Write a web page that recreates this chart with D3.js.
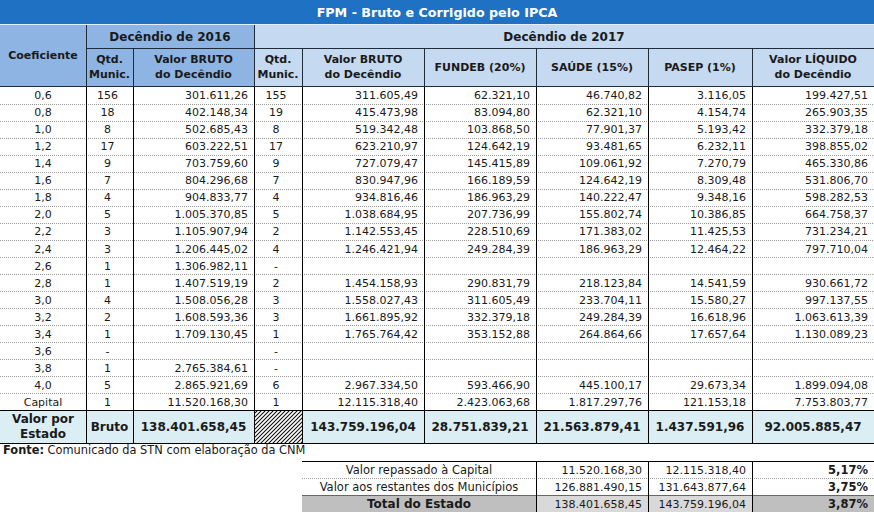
<!DOCTYPE html>
<html>
<head>
<meta charset="utf-8">
<script src="https://cdn.jsdelivr.net/npm/d3@7"></script>
<style>
  html, body { margin: 0; padding: 0; background: #fff; }
  svg { display: block; font-family: "DejaVu Sans", Verdana, sans-serif; }
</style>
</head>
<body>
<svg id="chart" width="874" height="512"></svg>
<script>
// ---------------- DATA ----------------
const title = "FPM - Bruto e Corrigido pelo IPCA";
const coeficientes = ["0,6","0,8","1,0","1,2","1,4","1,6","1,8","2,0","2,2","2,4","2,6","2,8","3,0","3,2","3,4","3,6","3,8","4,0","Capital"];
const qtd2016 = [156,18,8,17,9,7,4,5,3,3,1,1,4,2,1,null,1,5,1];
const bruto2016 = [301611.26,402148.34,502685.43,603222.51,703759.60,804296.68,904833.77,1005370.85,1105907.94,1206445.02,1306982.11,1407519.19,1508056.28,1608593.36,1709130.45,null,2765384.61,2865921.69,11520168.30];
const qtd2017 = [155,19,8,17,9,7,4,5,2,4,null,2,3,3,1,null,null,6,1];
const bruto2017 = [311605.49,415473.98,519342.48,623210.97,727079.47,830947.96,934816.46,1038684.95,1142553.45,1246421.94,null,1454158.93,1558027.43,1661895.92,1765764.42,null,null,2967334.50,12115318.40];
const fundeb = [62321.10,83094.80,103868.50,124642.19,145415.89,166189.59,186963.29,207736.99,228510.69,249284.39,null,290831.79,311605.49,332379.18,353152.88,null,null,593466.90,2423063.68];
const saude = [46740.82,62321.10,77901.37,93481.65,109061.92,124642.19,140222.47,155802.74,171383.02,186963.29,null,218123.84,233704.11,249284.39,264864.66,null,null,445100.17,1817297.76];
const pasep = [3116.05,4154.74,5193.42,6232.11,7270.79,8309.48,9348.16,10386.85,11425.53,12464.22,null,14541.59,15580.27,16618.96,17657.64,null,null,29673.34,121153.18];
const liquido = [199427.51,265903.35,332379.18,398855.02,465330.86,531806.70,598282.53,664758.37,731234.21,797710.04,null,930661.72,997137.55,1063613.39,1130089.23,null,null,1899094.08,7753803.77];

const totalLabel = ["Valor por", "Estado"];
const totalTipo = "Bruto";
const totais = { bruto2016: 138401658.45, bruto2017: 143759196.04, fundeb: 28751839.21, saude: 21563879.41, pasep: 1437591.96, liquido: 92005885.47 };

const headerGroups = ["Coeficiente", "Decêndio de 2016", "Decêndio de 2017"];
const subHeaders = [["Qtd.","Munic."],["Valor BRUTO","do Decêndio"],["Qtd.","Munic."],["Valor BRUTO","do Decêndio"],["FUNDEB (20%)"],["SAÚDE (15%)"],["PASEP (1%)"],["Valor LÍQUIDO","do Decêndio"]];

const fonteBold = "Fonte:";
const fonteText = " Comunicado da STN com elaboração da CNM";

const resumoLabels = ["Valor repassado à Capital","Valor aos restantes dos Municípios","Total do Estado"];
const resumo2016 = [11520168.30,126881490.15,138401658.45];
const resumo2017 = [12115318.40,131643877.64,143759196.04];
const resumoVar = [5.17,3.75,3.87];

// ---------------- FORMAT ----------------
const br = d3.formatLocale({decimal: ",", thousands: ".", grouping: [3], currency: ["R$ ", ""]});
const fmt = br.format(",.2f");
const fmtPct = v => br.format(".2f")(v) + "%";

// ---------------- LAYOUT ----------------
const W = 874;
const edges = [0, 86, 133, 254, 302, 424, 536, 648, 752, 874];
const svg = d3.select("#chart");
const C = {
  title: "#1f72c3", mid: "#8db4e2", light: "#c5d9f1", total: "#daeef3",
  line: "#000", hline: "#1d2b3a", dot: "#9a9a9a", text: "#1a1a1a",
  gray: "#bfbfbf", lgray: "#d9d9d9"
};

const yRow = d3.scaleBand().domain(d3.range(coeficientes.length)).range([86.5, 410.5]).paddingInner(0);

// Title bar
svg.append("rect").attr("x", 0).attr("y", 0).attr("width", W).attr("height", 24).attr("fill", C.title);
svg.append("text").attr("x", 437).attr("y", 17).attr("text-anchor", "middle")
  .attr("fill", "#fff").attr("font-weight", "bold").attr("font-size", 12.7).text(title);

// Header backgrounds
svg.append("rect").attr("x", 0).attr("y", 24).attr("width", edges[3]).attr("height", 62).attr("fill", C.mid);
svg.append("rect").attr("x", edges[3]).attr("y", 24).attr("width", W - edges[3]).attr("height", 62).attr("fill", C.light);

// header lines
const hl = svg.append("g").attr("stroke", C.hline).attr("stroke-width", 1);
hl.append("line").attr("x1", 0).attr("x2", W).attr("y1", 24.5).attr("y2", 24.5).attr("stroke", "#e8eef6");
hl.append("line").attr("x1", edges[1]).attr("x2", W).attr("y1", 48.5).attr("y2", 48.5);
[edges[1], edges[3]].forEach(x => hl.append("line").attr("x1", x + 0.5).attr("x2", x + 0.5).attr("y1", 25).attr("y2", 86));
[edges[2], edges[4], edges[5], edges[6], edges[7], edges[8]].forEach(x => hl.append("line").attr("x1", x + 0.5).attr("x2", x + 0.5).attr("y1", 48).attr("y2", 86));

// header texts
const ht = svg.append("g").attr("font-weight", "bold").attr("font-size", 11).attr("fill", C.text).attr("text-anchor", "middle");
ht.append("text").attr("x", 43).attr("y", 59).text(headerGroups[0]);
ht.append("text").attr("x", 170).attr("y", 41).attr("font-size", 12).text(headerGroups[1]);
ht.append("text").attr("x", 564).attr("y", 41).attr("font-size", 12).text(headerGroups[2]);
subHeaders.forEach((lines, j) => {
  const cx = (edges[j + 1] + edges[j + 2]) / 2;
  const t = ht.append("text").attr("x", cx);
  if (lines.length === 1) {
    t.attr("y", 71).text(lines[0]);
  } else {
    t.attr("y", 63);
    lines.forEach((l, k) => t.append("tspan").attr("x", cx).attr("dy", k === 0 ? 0 : 15).text(l));
  }
});

// ---------------- DATA ROWS ----------------
const columns = [
  { vals: coeficientes, align: "middle", kind: "text", dx: 0 },
  { vals: qtd2016, align: "middle", kind: "qtd", dx: -2 },
  { vals: bruto2016, align: "end", kind: "num", dx: 0 },
  { vals: qtd2017, align: "middle", kind: "qtd", dx: -2 },
  { vals: bruto2017, align: "end", kind: "num", dx: 0 },
  { vals: fundeb, align: "end", kind: "num", dx: 0 },
  { vals: saude, align: "end", kind: "num", dx: 0 },
  { vals: pasep, align: "end", kind: "num", dx: 0 },
  { vals: liquido, align: "end", kind: "num", dx: 0 }
];

// dotted row separators
const rowsG = svg.append("g");
rowsG.selectAll("line.dot").data(d3.range(1, coeficientes.length)).join("line")
  .attr("x1", 0).attr("x2", W)
  .attr("y1", i => Math.round(yRow(i)) + 0.5).attr("y2", i => Math.round(yRow(i)) + 0.5)
  .attr("stroke", C.dot).attr("stroke-width", 1).attr("stroke-dasharray", "1,1");

const textG = svg.append("g").attr("font-size", 11).attr("fill", C.text);
columns.forEach((col, j) => {
  const x0 = edges[j], x1 = edges[j + 1];
  const x = (col.align === "middle" ? (x0 + x1) / 2 : x1 - 6) + col.dx;
  textG.selectAll(null).data(col.vals.map((v, i) => ({ v, i }))).join("text")
    .attr("x", x)
    .attr("y", d => yRow(d.i) + yRow.bandwidth() / 2 + 4)
    .attr("text-anchor", col.align)
    .text(d => {
      if (col.kind === "text") return d.v;
      if (col.kind === "qtd") return d.v == null ? "-" : String(d.v);
      return d.v == null ? "" : fmt(d.v);
    });
});

// ---------------- TOTAL ROW ----------------
const yT0 = 410.5, yT1 = 443;
svg.append("rect").attr("x", 0).attr("y", yT0).attr("width", W).attr("height", yT1 - yT0).attr("fill", C.total);

// hatch pattern
const defs = svg.append("defs");
const pat = defs.append("pattern").attr("id", "hatch").attr("patternUnits", "userSpaceOnUse")
  .attr("width", 4).attr("height", 4);
pat.append("rect").attr("width", 4).attr("height", 4).attr("fill", "#fff");
pat.append("path").attr("d", "M-1,1 l2,-2 M0,4 l4,-4 M3,5 l2,-2").attr("stroke", "#111").attr("stroke-width", 1.1);
svg.append("rect").attr("x", edges[3]).attr("y", yT0).attr("width", edges[4] - edges[3]).attr("height", yT1 - yT0).attr("fill", "url(#hatch)");

const tt = svg.append("g").attr("font-size", 12).attr("font-weight", "bold").attr("fill", C.text).attr("text-anchor", "middle");
const lbl = tt.append("text").attr("x", 43).attr("y", 423);
totalLabel.forEach((l, k) => lbl.append("tspan").attr("x", 43).attr("dy", k === 0 ? 0 : 15).text(l));
tt.append("text").attr("x", (edges[1] + edges[2]) / 2).attr("y", 431).text(totalTipo);
const totalCols = [[2, totais.bruto2016], [4, totais.bruto2017], [5, totais.fundeb], [6, totais.saude], [7, totais.pasep], [8, totais.liquido]];
tt.selectAll(null).data(totalCols).join("text")
  .attr("x", d => (edges[d[0]] + edges[d[0] + 1]) / 2)
  .attr("y", 431)
  .text(d => fmt(d[1]));

// vertical lines, data + total
const vl = svg.append("g").attr("stroke", C.line).attr("stroke-width", 1);
edges.slice(1, -1).forEach(x => vl.append("line").attr("x1", x + 0.5).attr("x2", x + 0.5).attr("y1", 86).attr("y2", yT1));
vl.append("line").attr("x1", 0).attr("x2", W).attr("y1", 86.5).attr("y2", 86.5).attr("stroke", C.hline);
vl.append("line").attr("x1", 0).attr("x2", W).attr("y1", yT0).attr("y2", yT0);
vl.append("line").attr("x1", 0).attr("x2", W).attr("y1", yT1 + 0.5).attr("y2", yT1 + 0.5);

// ---------------- FONTE ----------------
const fonte = svg.append("text").attr("x", 3).attr("y", 454).attr("font-size", 11.4).attr("fill", C.text);
fonte.append("tspan").attr("font-weight", "bold").text(fonteBold);
fonte.append("tspan").text(fonteText);

// ---------------- RESUMO TABLE ----------------
const rEdges = [302, 536, 648, 752, 874];
const yR = d3.scaleBand().domain(d3.range(resumoLabels.length)).range([461, 512]);
const last = resumoLabels.length - 1;
// total row backgrounds
svg.append("rect").attr("x", rEdges[0]).attr("y", yR(last)).attr("width", rEdges[1] - rEdges[0]).attr("height", yR.bandwidth()).attr("fill", C.gray);
svg.append("rect").attr("x", rEdges[1]).attr("y", yR(last)).attr("width", rEdges[3] - rEdges[1]).attr("height", yR.bandwidth()).attr("fill", C.lgray);
svg.append("rect").attr("x", rEdges[3]).attr("y", yR(last)).attr("width", rEdges[4] - rEdges[3]).attr("height", yR.bandwidth()).attr("fill", C.gray);

const rl = svg.append("g").attr("stroke", C.line);
rl.append("line").attr("x1", rEdges[0]).attr("x2", W).attr("y1", 461.5).attr("y2", 461.5);
rl.append("line").attr("x1", rEdges[0]).attr("x2", W).attr("y1", Math.round(yR(1)) + 0.5).attr("y2", Math.round(yR(1)) + 0.5)
  .attr("stroke", C.dot).attr("stroke-dasharray", "1,1");
rl.append("line").attr("x1", rEdges[0]).attr("x2", W).attr("y1", Math.round(yR(2)) + 0.5).attr("y2", Math.round(yR(2)) + 0.5)
  .attr("stroke", "#666");
rEdges.slice(1, -1).forEach(x => rl.append("line").attr("x1", x + 0.5).attr("x2", x + 0.5).attr("y1", 461).attr("y2", 512));

const rt = svg.append("g").attr("font-size", 11).attr("fill", C.text);
const rowsData = resumoLabels.map((l, i) => ({ l, a: resumo2016[i], b: resumo2017[i], p: resumoVar[i], i }));
rt.selectAll("text.lbl").data(rowsData).join("text")
  .attr("x", (rEdges[0] + rEdges[1]) / 2)
  .attr("text-anchor", "middle")
  .attr("font-size", d => d.i === last ? 12 : 11.5)
  .attr("font-weight", d => d.i === last ? "bold" : "normal")
  .attr("y", d => yR(d.i) + yR.bandwidth() / 2 + 4)
  .text(d => d.l);
rt.selectAll("text.a").data(rowsData).join("text")
  .attr("x", rEdges[2] - 6).attr("text-anchor", "end")
  .attr("y", d => yR(d.i) + yR.bandwidth() / 2 + 4).text(d => fmt(d.a));
rt.selectAll("text.b").data(rowsData).join("text")
  .attr("x", rEdges[3] - 6).attr("text-anchor", "end")
  .attr("y", d => yR(d.i) + yR.bandwidth() / 2 + 4).text(d => fmt(d.b));
rt.selectAll("text.p").data(rowsData).join("text")
  .attr("x", rEdges[4] - 6).attr("text-anchor", "end").attr("font-weight", "bold").attr("font-size", 11.5)
  .attr("y", d => yR(d.i) + yR.bandwidth() / 2 + 4).text(d => fmtPct(d.p));
</script>
</body>
</html>
